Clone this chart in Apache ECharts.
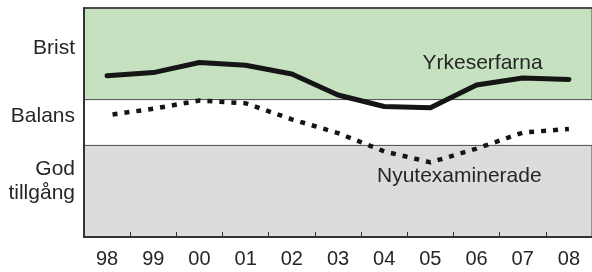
<!DOCTYPE html>
<html>
<head>
<meta charset="utf-8">
<script src="https://cdn.jsdelivr.net/npm/echarts@6/dist/echarts.min.js"></script>
<style>html,body{margin:0;padding:0;background:#fff}#c{width:592px;height:272px}</style>
</head>
<body>
<div id="c"></div>
<script>
const categories = ['98','99','00','01','02','03','04','05','06','07','08'];
const yrkeserfarna = [3.52, 3.59, 3.81, 3.75, 3.56, 3.10, 2.85, 2.82, 3.32, 3.47, 3.44];
const nyutexaminerade = [2.66, 2.80, 2.98, 2.92, 2.57, 2.27, 1.87, 1.63, 1.93, 2.28, 2.36];
const zoneLabels = ['Brist', 'Balans', 'God\ntillgång'];
const zoneLabelValues = [4.13, 2.63, 1.22];
const seriesNames = ['Yrkeserfarna', 'Nyutexaminerade'];
const zones = [[3, 5], [0, 2]];

const FONT = 'Liberation Sans, Arial, sans-serif';
const TXT = '#262626';
const chart = echarts.init(document.getElementById('c'), null, {renderer: 'canvas'});

const gridTop = 8, gridBottom = 35, H = 272;
const yMax = 5;
function yPix(v) { return gridTop + (H - gridTop - gridBottom) * (1 - v / yMax); }

chart.setOption({
  animation: false,
  grid: {left: 84, right: -5.3, top: gridTop, bottom: gridBottom},
  xAxis: [{
    type: 'category', data: categories, boundaryGap: true, position: 'bottom', z: 5,
    axisLine: {show: true, lineStyle: {color: '#333', width: 2}},
    axisTick: {show: true, inside: true, length: 5, lineStyle: {color: '#333', width: 1}},
    axisLabel: {color: TXT, fontSize: 20, fontFamily: FONT, margin: 12},
    splitLine: {show: false}
  }, {
    type: 'category', data: categories, position: 'top', z: 5,
    axisLine: {show: true, onZero: false, lineStyle: {color: '#333', width: 1.5}},
    axisTick: {show: false}, axisLabel: {show: false}, splitLine: {show: false}
  }],
  yAxis: {
    type: 'value', min: 0, max: yMax, z: 5,
    axisLine: {show: true, lineStyle: {color: '#333', width: 2}},
    axisTick: {show: false}, axisLabel: {show: false}, splitLine: {show: false}
  },
  series: [{
    name: seriesNames[0], type: 'line', data: yrkeserfarna, z: 3,
    symbol: 'none', smooth: false,
    lineStyle: {color: '#151515', width: 5, cap: 'round', join: 'round'},
    markArea: {
      silent: true,
      data: [
        [{yAxis: zones[0][0], itemStyle: {color: '#c6e1c0', borderColor: '#4a4a4a', borderWidth: 1}}, {yAxis: zones[0][1]}],
        [{yAxis: zones[1][0], itemStyle: {color: '#dcdcdf', borderColor: '#4a4a4a', borderWidth: 1}}, {yAxis: zones[1][1]}]
      ]
    }
  }, {
    name: seriesNames[1], type: 'line', data: nyutexaminerade, z: 3,
    symbol: 'none', smooth: false,
    lineStyle: {color: '#151515', width: 4.5, type: [5, 7], dashOffset: 6.5, cap: 'butt'}
  }],
  graphic: [
    {type: 'text', left: null, x: 75, y: yPix(zoneLabelValues[0]), style: {text: zoneLabels[0], fill: TXT, font: '21px ' + FONT, textAlign: 'right', textVerticalAlign: 'middle'}},
    {type: 'text', x: 75, y: yPix(zoneLabelValues[1]), style: {text: zoneLabels[1], fill: TXT, font: '21px ' + FONT, textAlign: 'right', textVerticalAlign: 'middle'}},
    {type: 'text', x: 75, y: yPix(zoneLabelValues[2]), style: {text: zoneLabels[2], fill: TXT, font: '21px ' + FONT, lineHeight: 24, textAlign: 'right', textVerticalAlign: 'middle'}},
    {type: 'text', x: 422.5, y: 63, z: 10, style: {text: seriesNames[0], fill: TXT, font: '21px ' + FONT, textAlign: 'left', textVerticalAlign: 'middle'}},
    {type: 'text', x: 377, y: 176.5, z: 10, style: {text: seriesNames[1], fill: TXT, font: '21px ' + FONT, textAlign: 'left', textVerticalAlign: 'middle'}}
  ]
});
</script>
</body>
</html>
